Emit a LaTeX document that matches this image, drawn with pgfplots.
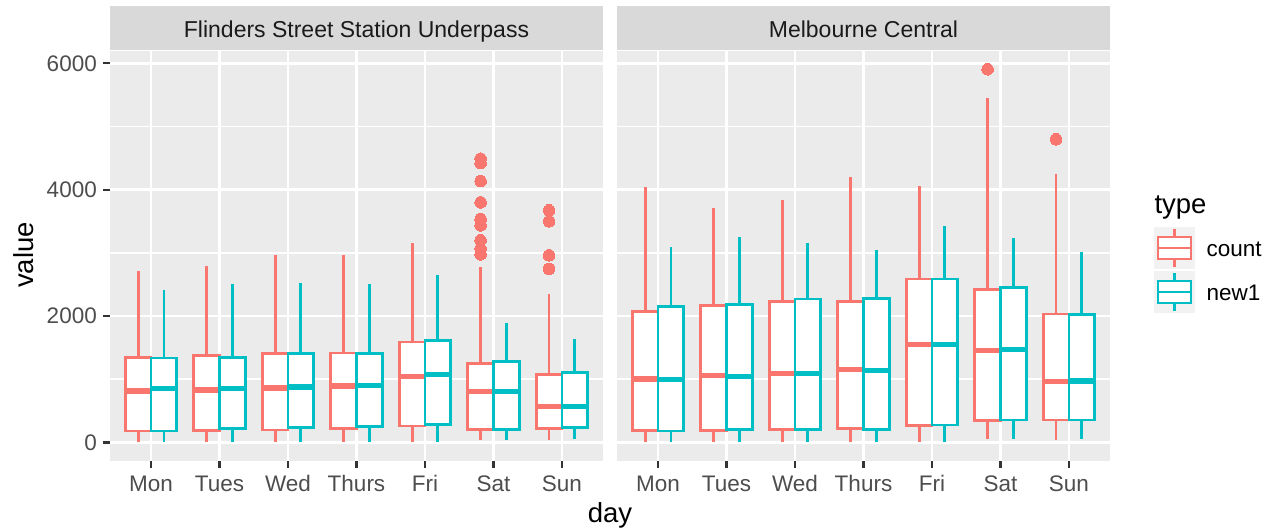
\documentclass[border=0pt]{standalone}
\usepackage{pgfplots}
\pgfplotsset{compat=1.18}
\usepackage{fontspec}
\setmainfont{Liberation Sans}
\definecolor{countc}{HTML}{F8766D}
\definecolor{newc}{HTML}{00BFC4}
\definecolor{panelbg}{HTML}{EBEBEB}
\definecolor{stripbg}{HTML}{D9D9D9}
\definecolor{tickc}{HTML}{333333}
\definecolor{ticklab}{HTML}{4D4D4D}
\definecolor{striptext}{HTML}{1A1A1A}
\definecolor{keybg}{HTML}{F2F2F2}
\pgfplotsset{
  facet/.style={
    scale only axis, width=493pt, height=410pt,
    anchor=south west,
    xmin=0.4, xmax=7.6, ymin=-295, ymax=6195,
    xtick={1,2,3,4,5,6,7},
    xticklabels={Mon,Tues,Wed,Thurs,Fri,Sat,Sun},
    ytick={0,2000,4000,6000}, minor ytick={1000,3000,5000},
    yticklabels={0,2000,4000,6000},
    grid=both,
    major grid style={white, line width=2.8pt},
    minor grid style={white, line width=1.4pt},
    axis background/.style={fill=panelbg},
    axis line style={draw=none},
    tick align=outside, tick pos=left,
    major tick length=7pt, minor tick style={draw=none},
    every tick/.style={tickc, line width=2.3pt},
    ticklabel style={font=\fontsize{22.5}{26}\selectfont, text=ticklab, inner sep=0pt},
    xticklabel style={text height=16pt, text depth=5pt},
    xticklabel shift=7pt, yticklabel shift=6pt,
    clip=false,
  },
  outl/.style={countc, only marks, mark=*, mark size=5.8pt, mark options={fill=countc, draw=countc, line width=0pt}},
}
% colour, x0, xmid, x1, lower whisker, lower quartile, median, upper quartile, upper whisker
\newcommand{\bx}[9]{%
\addplot[#1, line width=2.8pt] coordinates {(#3,#5)(#3,#6)};
\addplot[#1, line width=2.8pt] coordinates {(#3,#8)(#3,#9)};
\addplot[draw=#1, fill=white, line width=2.8pt] coordinates {(#2,#6)(#4,#6)(#4,#8)(#2,#8)} -- cycle;
\addplot[#1, line width=5.5pt] coordinates {(#2,#7)(#4,#7)};
}
\begin{document}
\begin{tikzpicture}
\useasboundingbox (0pt,0pt) rectangle (1270pt,531pt);
% strips
\fill[stripbg] (110pt,481pt) rectangle (603pt,525pt);
\fill[stripbg] (617pt,481pt) rectangle (1110pt,525pt);
\node[anchor=base, text=striptext, font=\fontsize{23}{27}\selectfont] at (356.5pt,493.7pt) {Flinders Street Station Underpass};
\node[anchor=base, text=striptext, font=\fontsize{23}{27}\selectfont] at (863.5pt,493.7pt) {Melbourne Central};
% left panel
\begin{axis}[facet, at={(110pt,70pt)}]
\bx{countc}{0.625}{0.8125}{1}{0}{179}{812}{1341}{2707}
\bx{newc}{1}{1.1875}{1.375}{0}{179}{850}{1336}{2417}
\bx{countc}{1.625}{1.8125}{2}{0}{190}{828}{1377}{2797}
\bx{newc}{2}{2.1875}{2.375}{0}{222}{850}{1341}{2512}
\bx{countc}{2.625}{2.8125}{3}{0}{195}{860}{1404}{2966}
\bx{newc}{3}{3.1875}{3.375}{0}{232}{876}{1404}{2527}
\bx{countc}{3.625}{3.8125}{4}{0}{216}{892}{1414}{2971}
\bx{newc}{4}{4.1875}{4.375}{0}{253}{897}{1404}{2512}
\bx{countc}{4.625}{4.8125}{5}{0}{259}{1045}{1588}{3161}
\bx{newc}{5}{5.1875}{5.375}{0}{285}{1076}{1610}{2649}
\bx{countc}{5.625}{5.8125}{6}{30}{206}{807}{1245}{2776}
\bx{newc}{6}{6.1875}{6.375}{43}{201}{807}{1282}{1889}
\bx{countc}{6.625}{6.8125}{7}{30}{216}{565}{1071}{2348}
\bx{newc}{7}{7.1875}{7.375}{47}{232}{570}{1108}{1630}
\addplot[outl] coordinates {(5.8125,4490)(5.8125,4420)(5.8125,4137)(5.8125,3799)(5.8125,3535)(5.8125,3435)(5.8125,3198)(5.8125,3066)(5.8125,2976)};
\addplot[outl] coordinates {(6.8125,3673)(6.8125,3499)(6.8125,2960)(6.8125,2744)};
\end{axis}
% right panel
\begin{axis}[facet, at={(617pt,70pt)}, yticklabels={}, ytick style={draw=none}]
\bx{countc}{0.625}{0.8125}{1}{0}{190}{1003}{2074}{4042}
\bx{newc}{1}{1.1875}{1.375}{0}{179}{997}{2148}{3092}
\bx{countc}{1.625}{1.8125}{2}{0}{190}{1061}{2164}{3710}
\bx{newc}{2}{2.1875}{2.375}{0}{201}{1045}{2185}{3250}
\bx{countc}{2.625}{2.8125}{3}{0}{206}{1087}{2232}{3831}
\bx{newc}{3}{3.1875}{3.375}{0}{206}{1087}{2269}{3150}
\bx{countc}{3.625}{3.8125}{4}{0}{216}{1150}{2232}{4200}
\bx{newc}{4}{4.1875}{4.375}{0}{206}{1140}{2280}{3050}
\bx{countc}{4.625}{4.8125}{5}{0}{264}{1551}{2585}{4053}
\bx{newc}{5}{5.1875}{5.375}{0}{275}{1546}{2585}{3419}
\bx{countc}{5.625}{5.8125}{6}{47}{348}{1456}{2422}{5456}
\bx{newc}{6}{6.1875}{6.375}{58}{354}{1467}{2449}{3240}
\bx{countc}{6.625}{6.8125}{7}{32}{354}{966}{2032}{4253}
\bx{newc}{7}{7.1875}{7.375}{58}{354}{971}{2026}{3019}
\addplot[outl] coordinates {(5.8125,5905)(6.8125,4797)};
\end{axis}
% axis titles
\node[anchor=base, rotate=90, font=\fontsize{27.5}{32}\selectfont] at (34pt,276pt) {value};
\node[anchor=base, font=\fontsize{27.5}{32}\selectfont] at (610pt,9pt) {day};
% legend
\node[anchor=base west, font=\fontsize{27.5}{32}\selectfont] at (1151pt,317pt) {type};
\fill[keybg] (1154pt,262pt) rectangle (1195pt,304pt);
\fill[keybg] (1154pt,218pt) rectangle (1195pt,260pt);
\draw[countc, line width=2.8pt] (1174.5pt,302pt) -- (1174.5pt,264pt);
\draw[countc, line width=2.8pt, fill=white] (1158pt,272pt) rectangle (1191pt,294pt);
\draw[countc, line width=2.8pt] (1158pt,283pt) -- (1191pt,283pt);
\draw[newc, line width=2.8pt] (1174.5pt,258pt) -- (1174.5pt,220pt);
\draw[newc, line width=2.8pt, fill=white] (1158pt,228pt) rectangle (1191pt,250pt);
\draw[newc, line width=2.8pt] (1158pt,239pt) -- (1191pt,239pt);
\node[anchor=base west, font=\fontsize{22.5}{26}\selectfont] at (1203pt,274pt) {count};
\node[anchor=base west, font=\fontsize{22.5}{26}\selectfont] at (1203pt,230pt) {new1};
\end{tikzpicture}
\end{document}
